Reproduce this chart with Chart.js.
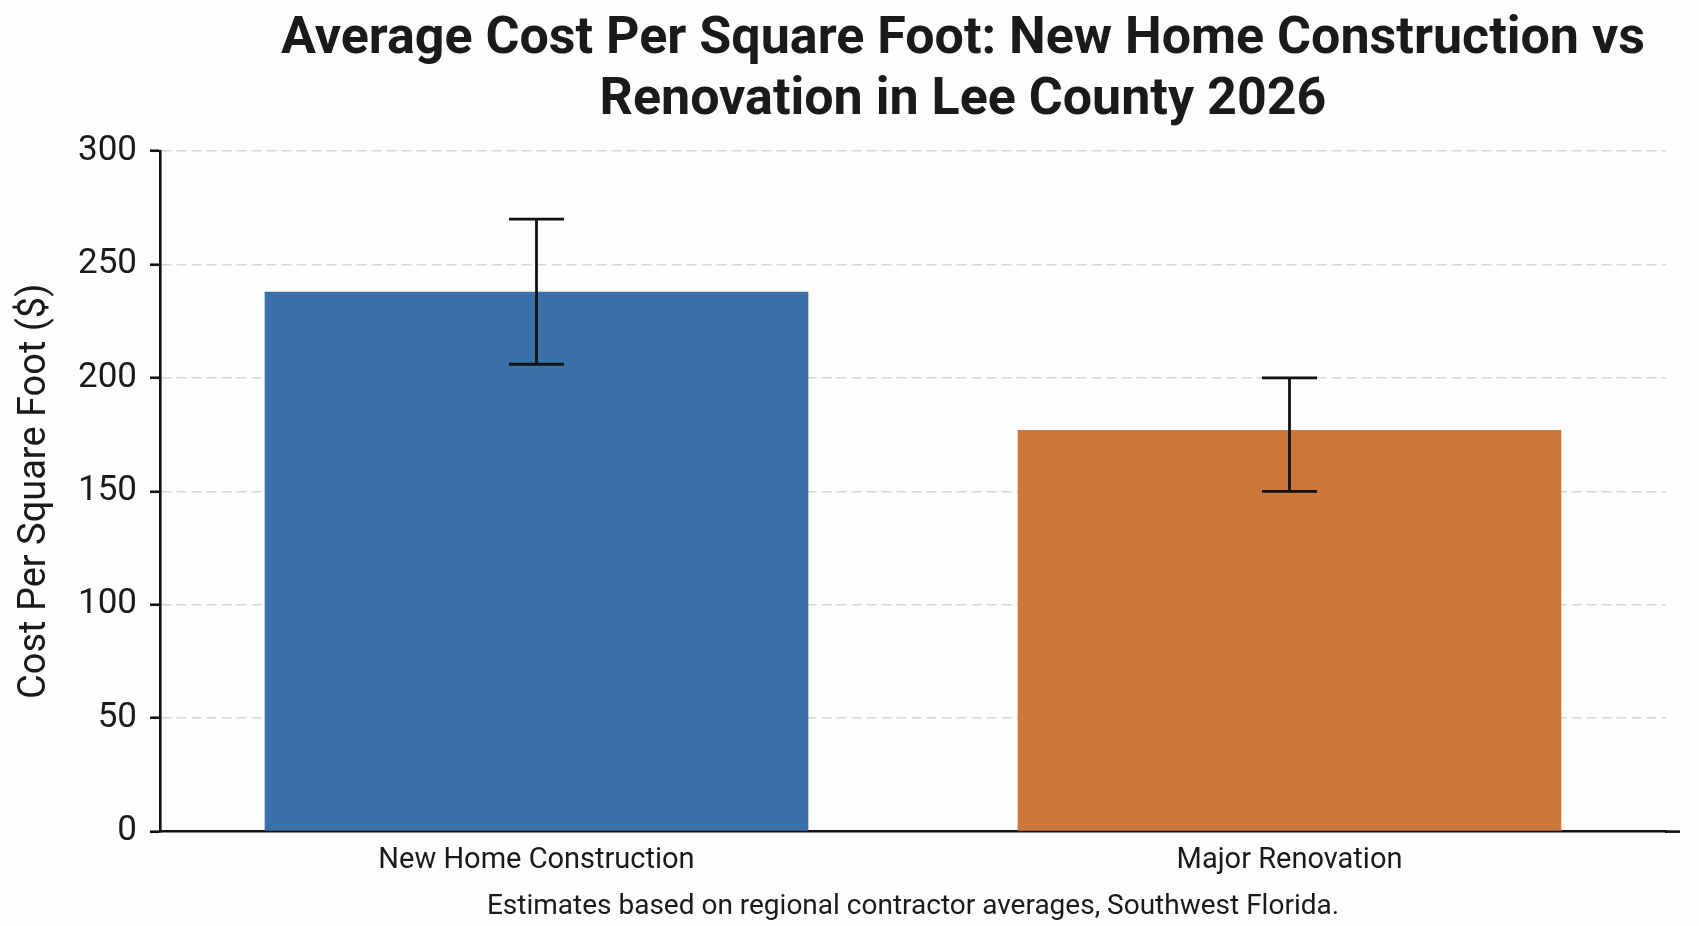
<!DOCTYPE html>
<html>
<head>
<meta charset="utf-8">
<script src="https://cdn.jsdelivr.net/npm/chart.js@4.4.1/dist/chart.umd.min.js"></script>
<style>
  html, body { margin: 0; padding: 0; background: #fdfdfd; }
  #wrap { position: relative; width: 1699px; height: 926px; background: #fdfdfd; overflow: hidden; }
  #title {
    position: absolute; left: 263px; top: 5px; width: 1400px;
    text-align: center; font-family: Roboto, "Liberation Sans", sans-serif;
    font-weight: 700; font-size: 52px; line-height: 61px; color: #1a1a1a;
  }
  canvas { position: absolute; left: 0; top: 0; }
</style>
</head>
<body>
<div id="wrap">
  <canvas id="c" width="1699" height="926"></canvas>
  <div id="title">Average Cost Per Square Foot: New Home Construction vs<br>Renovation in Lee County 2026</div>
</div>
<script>
// ---- data ----
const categories = ['New Home Construction', 'Major Renovation'];
const avgCost = [238, 177];
const rangeLow = [206, 150];
const rangeHigh = [270, 200];
const barColors = ['#3b71a9', '#cc783c'];
const yMin = 0;
const yMax = 300;
const yStep = 50;
const yTitle = 'Cost Per Square Foot ($)';
const caption = 'Estimates based on regional contractor averages, Southwest Florida.';

const errorBars = {
  id: 'errorBars',
  afterDatasetsDraw(chart) {
    const ctx = chart.ctx;
    const meta = chart.getDatasetMeta(0);
    const y = chart.scales.y;
    const cap = 27.5;
    ctx.save();
    ctx.strokeStyle = '#111111';
    ctx.lineWidth = 2.8;
    meta.data.forEach((bar, i) => {
      const x = bar.x;
      const yHi = y.getPixelForValue(rangeHigh[i]);
      const yLo = y.getPixelForValue(rangeLow[i]);
      ctx.beginPath();
      ctx.moveTo(x, yHi); ctx.lineTo(x, yLo);
      ctx.moveTo(x - cap, yHi); ctx.lineTo(x + cap, yHi);
      ctx.moveTo(x - cap, yLo); ctx.lineTo(x + cap, yLo);
      ctx.stroke();
    });
    ctx.restore();
  }
};

// the x-axis line runs a little past the last category
const axisOverhang = {
  id: 'axisOverhang',
  afterDraw(chart) {
    const ctx = chart.ctx;
    const a = chart.chartArea;
    ctx.save();
    ctx.strokeStyle = '#111111';
    ctx.lineWidth = 2.6;
    ctx.beginPath();
    ctx.moveTo(a.right - 1, a.bottom);
    ctx.lineTo(a.right + 14, a.bottom);
    ctx.stroke();
    ctx.restore();
  }
};

new Chart(document.getElementById('c'), {
  type: 'bar',
  data: {
    labels: categories,
    datasets: [{
      data: avgCost,
      backgroundColor: barColors,
      borderWidth: 0,
      barPercentage: 0.722,
      categoryPercentage: 1.0
    }]
  },
  options: {
    responsive: false,
    animation: false,
    devicePixelRatio: 1,
    layout: { padding: { top: 151, right: 33, left: 0, bottom: 0 } },
    plugins: {
      legend: { display: false },
      tooltip: { enabled: false },
      title: { display: false },
      subtitle: {
        display: true,
        position: 'bottom',
        fullSize: false,
        text: caption,
        color: '#1a1a1a',
        font: { family: 'Roboto', size: 28, weight: 'normal' },
        padding: { top: 8, bottom: 2 }
      }
    },
    scales: {
      x: {
        grid: { display: false },
        border: { display: true, color: '#111111', width: 2.6 },
        ticks: { color: '#1a1a1a', font: { family: 'Roboto', size: 29 }, padding: 4 }
      },
      y: {
        min: yMin,
        max: yMax,
        afterFit(scale) { scale.width = 160; },
        ticks: { stepSize: yStep, color: '#1a1a1a', font: { family: 'Roboto', size: 35 }, padding: 13 },
        grid: {
          color: (ctx) => (ctx.tick && ctx.tick.value === 0) ? 'rgba(0,0,0,0)' : '#d6d6d6',
          lineWidth: 1.5,
          drawTicks: true,
          tickLength: 10,
          tickColor: '#111111',
          tickWidth: 2.6,
          tickBorderDash: []
        },
        border: { display: true, color: '#111111', width: 2.6, dash: [10, 5] },
        title: {
          display: true,
          text: yTitle,
          color: '#1a1a1a',
          font: { family: 'Roboto', size: 38, weight: 'normal' },
          padding: { top: 13, bottom: 0 }
        }
      }
    }
  },
  plugins: [errorBars, axisOverhang]
});
</script>
</body>
</html>
